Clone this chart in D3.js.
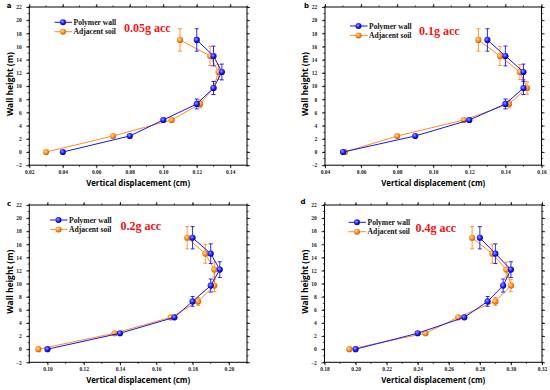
<!DOCTYPE html>
<html>
<head>
<meta charset="utf-8">
<script src="https://cdn.jsdelivr.net/npm/d3@7"></script>
<style>
  body { margin: 0; background: #fff; }
  svg { display: block; }
</style>
</head>
<body>
<div id="chart"></div>
<script>
// wall heights (m), shared by all four panels
const heights = [0, 2.43, 4.86, 7.29, 9.71, 12.14, 14.57, 17.0];

// vertical displacement (cm) per panel
const wallA = [0.040, 0.080, 0.100, 0.120, 0.130, 0.135, 0.130, 0.120];
const soilA = [0.030, 0.070, 0.105, 0.122, 0.130, 0.133, 0.128, 0.110];
const wallB = [0.050, 0.090, 0.120, 0.140, 0.150, 0.150, 0.140, 0.130];
const soilB = [0.051, 0.080, 0.117, 0.142, 0.152, 0.148, 0.137, 0.125];
const wallC = [0.100, 0.140, 0.170, 0.180, 0.190, 0.195, 0.190, 0.180];
const soilC = [0.095, 0.137, 0.168, 0.183, 0.192, 0.192, 0.187, 0.177];
const wallD = [0.200, 0.240, 0.270, 0.285, 0.295, 0.300, 0.290, 0.280];
const soilD = [0.196, 0.245, 0.266, 0.290, 0.300, 0.297, 0.288, 0.275];

// error bars on height (m)
const wallErr = [0, 0.15, 0.3, 0.75, 1.0, 1.2, 1.5, 1.7];
const soilErr = [0, 0.15, 0.25, 0.6, 0.95, 1.15, 1.45, 1.7];

// axis ticks
const yTicks = [-2, 0, 2, 4, 6, 8, 10, 12, 14, 16, 18, 20, 22];
const xTicksA = [0.02, 0.04, 0.06, 0.08, 0.10, 0.12, 0.14];
const xTicksB = [0.04, 0.06, 0.08, 0.10, 0.12, 0.14, 0.16];
const xTicksC = [0.10, 0.12, 0.14, 0.16, 0.18, 0.20];
const xTicksD = [0.18, 0.20, 0.22, 0.24, 0.26, 0.28, 0.30, 0.32];

const seriesNames = ["Polymer wall", "Adjacent soil"];
const accLabels = ["0.05g acc", "0.1g acc", "0.2g acc", "0.4g acc"];
const panelLetters = ["a", "b", "c", "d"];

const blue = "#1414f5";
const orange = "#ff8c1e";

const svg = d3.select("#chart").append("svg")
    .attr("width", 550)
    .attr("height", 390);

// kleine "Kugel"-Marker wie im Original
const defs = svg.append("defs");
function sphere(id, light, mid, dark) {
    const g = defs.append("radialGradient").attr("id", id)
        .attr("cx", "40%").attr("cy", "38%").attr("r", "65%");
    g.append("stop").attr("offset", "0%").attr("stop-color", light);
    g.append("stop").attr("offset", "55%").attr("stop-color", mid);
    g.append("stop").attr("offset", "100%").attr("stop-color", dark);
}
sphere("gBlue", "#9a9aff", "#1a1aff", "#00008c");
sphere("gOrange", "#ffd9a8", "#ff8c1a", "#c25a00");

const panels = [
    { left: 29.3, right: 247, top: 7, bottom: 165.2, dom: [0.02, 0.15], ticks: xTicksA,
      wall: wallA, soil: soilA, legY: 22.3, legX: 54.5, accX: 124, accY: 32, letter: [9, 8], yTitleX: 10 },
    { left: 325, right: 541.5, top: 7, bottom: 165.2, dom: [0.04, 0.16], ticks: xTicksB,
      wall: wallB, soil: soilB, legY: 26, legX: 350, accX: 419, accY: 34.5, letter: [306.5, 8], yTitleX: 305 },
    { left: 29.3, right: 247, top: 205, bottom: 362.3, dom: [0.09, 0.21], ticks: xTicksC,
      wall: wallC, soil: soilC, legY: 220, legX: 50, accX: 120.5, accY: 229.5, letter: [9, 206], yTitleX: 10 },
    { left: 324.5, right: 542, top: 205, bottom: 362.3, dom: [0.18, 0.32], ticks: xTicksD,
      wall: wallD, soil: soilD, legY: 222.3, legX: 348.5, accX: 415.5, accY: 232, letter: [303, 204], yTitleX: 304.5 }
];

panels.forEach((p, i) => {
    const x = d3.scaleLinear().domain(p.dom).range([p.left, p.right]);
    const y = d3.scaleLinear().domain([-2, 22]).range([p.bottom, p.top]);
    const g = svg.append("g");

    // Minor-Ticks
    const xMinor = d3.range(Math.round(p.dom[0] * 100), Math.round(p.dom[1] * 100) + 1).map(v => v / 100);
    const yMinor = d3.range(-2, 23, 1);

    // Achsen (unten, links) mit Beschriftung
    const xAxis = d3.axisBottom(x).tickValues(p.ticks).tickSize(3).tickFormat(d3.format(".2f"));
    const yAxis = d3.axisLeft(y).tickValues(yTicks).tickSize(3).tickFormat(d3.format("d"));

    const gx = g.append("g").attr("transform", `translate(0,${p.bottom})`).call(xAxis);
    const gy = g.append("g").attr("transform", `translate(${p.left},0)`).call(yAxis);
    [gx, gy].forEach(a => {
        a.select(".domain").remove();
        a.selectAll("line").attr("stroke", "#000").attr("stroke-width", 0.8);
        a.selectAll("text")
            .attr("font-family", "Liberation Serif, serif")
            .attr("font-weight", "bold")
            .attr("font-size", "5.5px")
            .attr("fill", "#222");
    });
    gx.selectAll("text").attr("dy", "0.5em");
    gy.selectAll("text").attr("dx", "-0.3em");

    // Gespiegelte Achsen oben/rechts ohne Labels
    g.append("g").attr("transform", `translate(0,${p.top})`)
        .call(d3.axisTop(x).tickValues(p.ticks).tickSize(3).tickFormat(""))
        .call(a => a.select(".domain").remove())
        .selectAll("line").attr("stroke", "#000").attr("stroke-width", 0.8);
    g.append("g").attr("transform", `translate(${p.right},0)`)
        .call(d3.axisRight(y).tickValues(yTicks).tickSize(3).tickFormat(""))
        .call(a => a.select(".domain").remove())
        .selectAll("line").attr("stroke", "#000").attr("stroke-width", 0.8);

    // minor ticks on all four sides
    xMinor.forEach(v => {
        [[p.bottom, 1.6], [p.top, -1.6]].forEach(([yy, len]) => {
            g.append("line").attr("x1", x(v)).attr("x2", x(v))
                .attr("y1", yy).attr("y2", yy + len)
                .attr("stroke", "#000").attr("stroke-width", 0.7);
        });
    });
    yMinor.forEach(v => {
        [[p.left, -1.6], [p.right, 1.6]].forEach(([xx, len]) => {
            g.append("line").attr("x1", xx).attr("x2", xx + len)
                .attr("y1", y(v)).attr("y2", y(v))
                .attr("stroke", "#000").attr("stroke-width", 0.7);
        });
    });

    // Rahmen
    g.append("rect")
        .attr("x", p.left).attr("y", p.top)
        .attr("width", p.right - p.left).attr("height", p.bottom - p.top)
        .attr("fill", "none").attr("stroke", "#000").attr("stroke-width", 1);

    // Achsentitel
    g.append("text")
        .attr("x", (p.left + p.right) / 2)
        .attr("y", p.bottom + 20.5)
        .attr("text-anchor", "middle")
        .attr("font-family", "Open Sans, sans-serif")
        .attr("font-weight", "bold")
        .attr("font-size", "8.6px")
        .attr("textLength", 104)
        .attr("lengthAdjust", "spacingAndGlyphs")
        .text("Vertical displacement (cm)");

    g.append("text")
        .attr("transform", `translate(${p.yTitleX + 3},${(p.top + p.bottom) / 2 - 2}) rotate(-90)`)
        .attr("text-anchor", "middle")
        .attr("font-family", "Open Sans, sans-serif")
        .attr("font-weight", "bold")
        .attr("font-size", "8.6px")
        .attr("textLength", 64)
        .attr("lengthAdjust", "spacingAndGlyphs")
        .text("Wall height (m)");

    // Panel-Buchstabe
    g.append("text")
        .attr("x", p.letter[0]).attr("y", p.letter[1])
        .attr("text-anchor", "middle")
        .attr("font-family", "DejaVu Sans, sans-serif")
        .attr("font-weight", "bold")
        .attr("font-size", "7px")
        .text(panelLetters[i]);

    // Daten: erst Boden, dann Wand
    const series = [
        { vals: p.soil, err: soilErr, color: orange, grad: "url(#gOrange)" },
        { vals: p.wall, err: wallErr, color: blue, grad: "url(#gBlue)" }
    ];
    const line = d3.line().x(d => x(d[0])).y(d => y(d[1]));

    series.forEach(s => {
        const pts = s.vals.map((v, k) => [v, heights[k], s.err[k]]);
        g.append("path")
            .datum(pts)
            .attr("d", line)
            .attr("fill", "none")
            .attr("stroke", s.color)
            .attr("stroke-width", 1);

        const eb = g.append("g").attr("stroke", s.color).attr("stroke-width", 0.9);
        pts.filter(d => d[2] > 0.2).forEach(d => {
            eb.append("line").attr("x1", x(d[0])).attr("x2", x(d[0]))
                .attr("y1", y(d[1] - d[2])).attr("y2", y(d[1] + d[2]));
            [d[1] - d[2], d[1] + d[2]].forEach(h => {
                eb.append("line").attr("x1", x(d[0]) - 2).attr("x2", x(d[0]) + 2)
                    .attr("y1", y(h)).attr("y2", y(h));
            });
        });

        g.selectAll(null)
            .data(pts)
            .enter()
            .append("circle")
            .attr("cx", d => x(d[0]))
            .attr("cy", d => y(d[1]))
            .attr("r", 3.1)
            .attr("fill", s.grad);
    });

    // Legende
    [[blue, "url(#gBlue)"], [orange, "url(#gOrange)"]].forEach(([c, grad], k) => {
        const ly = p.legY + k * 9.4;
        g.append("line")
            .attr("x1", p.legX).attr("x2", p.legX + 17.5)
            .attr("y1", ly).attr("y2", ly)
            .attr("stroke", c).attr("stroke-width", 1);
        g.append("circle")
            .attr("cx", p.legX + 8.5).attr("cy", ly).attr("r", 3)
            .attr("fill", grad);
        g.append("text")
            .attr("x", p.legX + 19).attr("y", ly + 2.6)
            .attr("font-family", "Liberation Serif, serif")
            .attr("font-weight", "bold")
            .attr("font-size", "7.6px")
            .attr("fill", "#111")
            .text(seriesNames[k]);
    });

    // Beschleunigung
    g.append("text")
        .attr("x", p.accX).attr("y", p.accY)
        .attr("font-family", "Liberation Serif, serif")
        .attr("font-weight", "bold")
        .attr("font-size", "12px")
        .attr("fill", "#f01414")
        .text(accLabels[i]);
});
</script>
</body>
</html>
